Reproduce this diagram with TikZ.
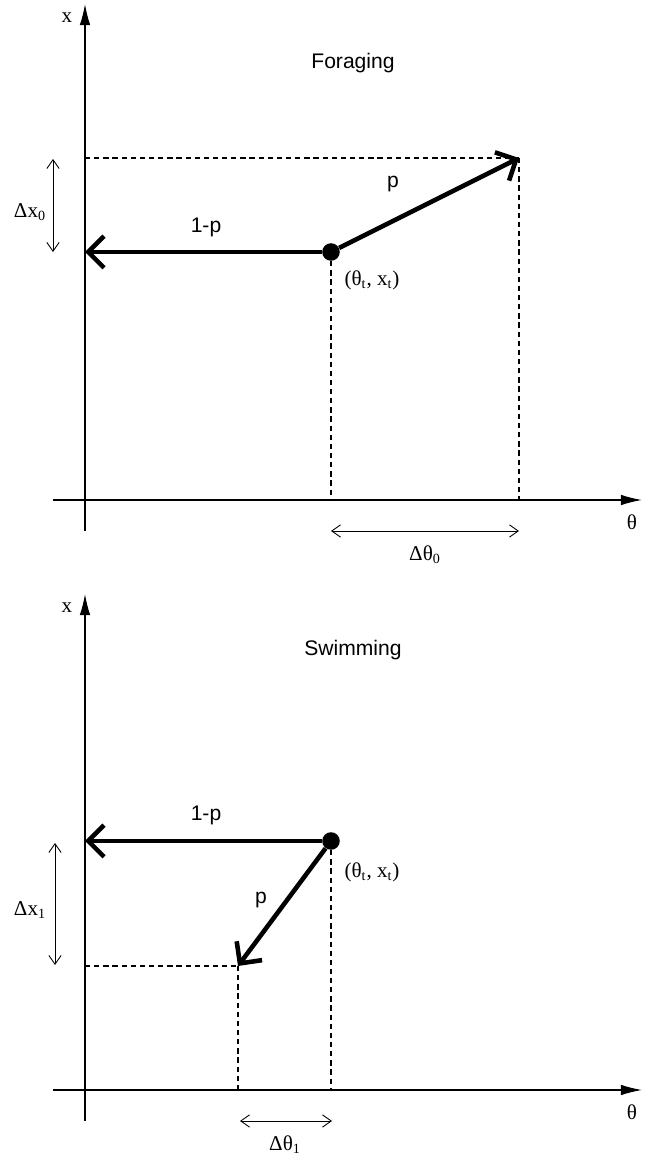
\documentclass[tikz,border=0pt]{standalone}
\usepackage{fontspec}
\setmainfont{Liberation Serif}
\setsansfont{Liberation Sans}
\usetikzlibrary{arrows.meta,positioning,calc}

\tikzset{
  axis/.style={line width=0.7pt,-{Latex[length=12pt,width=6pt]}},
  move/.style={line width=2.6pt,-{Straight Barb[length=9pt,width=18pt]}},
  guide/.style={line width=1.2pt,dash pattern=on 3pt off 2.2pt},
  span/.style={line width=0.5pt,{Straight Barb[length=5pt,width=7pt]}-{Straight Barb[length=5pt,width=7pt]}},
  state/.style={circle,fill=black,inner sep=0pt,minimum size=10pt},
  lab/.style={font=\fontsize{12}{14}\selectfont},
  slab/.style={font=\sffamily\fontsize{12}{14}\selectfont},
}

\begin{document}
\begin{tikzpicture}[x=0.2cm,y=0.2cm]
\useasboundingbox (0,0) rectangle (64.7,115.7);
% foraging
\begin{scope}[shift={(8.5,65.7)}]
\coordinate (fo) at (0,0);
\draw[axis] (-3.2,0) -- (55.7,0);
\draw[axis] (0,-3.1) -- (0,49.6);
\node[lab] (fxl) at (-1.8,48.2) {x};
\node[lab] (fthl) at (54.7,-2.2) {θ};
\node[slab] (fname) at (26.8,43.7) {Foraging};
\node[state] (fpt) at (24.6,24.8) {};
\coordinate (fup) at (43.4,34.2);
\coordinate (fleft) at (0,24.8);
\draw[guide] (fo |- fup) -- (fup);
\draw[guide] (fup) -- (fup |- fo);
\draw[guide] (fpt.south) -- (fpt |- fo);
\draw[move] (fpt) -- (fleft);
\draw[move] (fpt) -- (fup);
\node[slab] at (12.1,27.3) {1-p};
\node[slab] at (30.8,31.6) {p};
\node[lab] at (28.7,22.0) {(θ\textsubscript{t}, x\textsubscript{t})};
\draw[span] (-3.2,34.1) -- (-3.2,24.8);
\node[lab] at (-5.5,28.8) {Δx\textsubscript{0}};
\draw[span] (24.6,-3.1) -- (43.4,-3.1);
\node[lab] at (34.0,-5.5) {Δθ\textsubscript{0}};
\end{scope}
% swimming
\begin{scope}[shift={(8.5,6.7)}]
\coordinate (so) at (0,0);
\draw[axis] (-3.2,0) -- (55.7,0);
\draw[axis] (0,-3.1) -- (0,49.6);
\node[lab] (sxl) at (-1.8,48.2) {x};
\node[lab] (sthl) at (54.7,-2.2) {θ};
\node[slab] (sname) at (26.8,44.0) {Swimming};
\node[state] (spt) at (24.6,24.9) {};
\coordinate (sdown) at (15.3,12.4);
\coordinate (sleft) at (0,24.9);
\draw[guide] (so |- sdown) -- (sdown);
\draw[guide] (sdown) -- (sdown |- so);
\draw[guide] (spt.south) -- (spt |- so);
\draw[move] (spt) -- (sleft);
\draw[move] (spt) -- (sdown);
\node[slab] at (12.1,27.5) {1-p};
\node[slab] at (17.6,19.0) {p};
\node[lab] at (28.7,21.8) {(θ\textsubscript{t}, x\textsubscript{t})};
\draw[span] (-3.0,24.7) -- (-3.0,12.5);
\node[lab] at (-5.5,18.0) {Δx\textsubscript{1}};
\draw[span] (15.5,-3.1) -- (24.7,-3.1);
\node[lab] at (20.0,-5.5) {Δθ\textsubscript{1}};
\end{scope}
\end{tikzpicture}
\end{document}
